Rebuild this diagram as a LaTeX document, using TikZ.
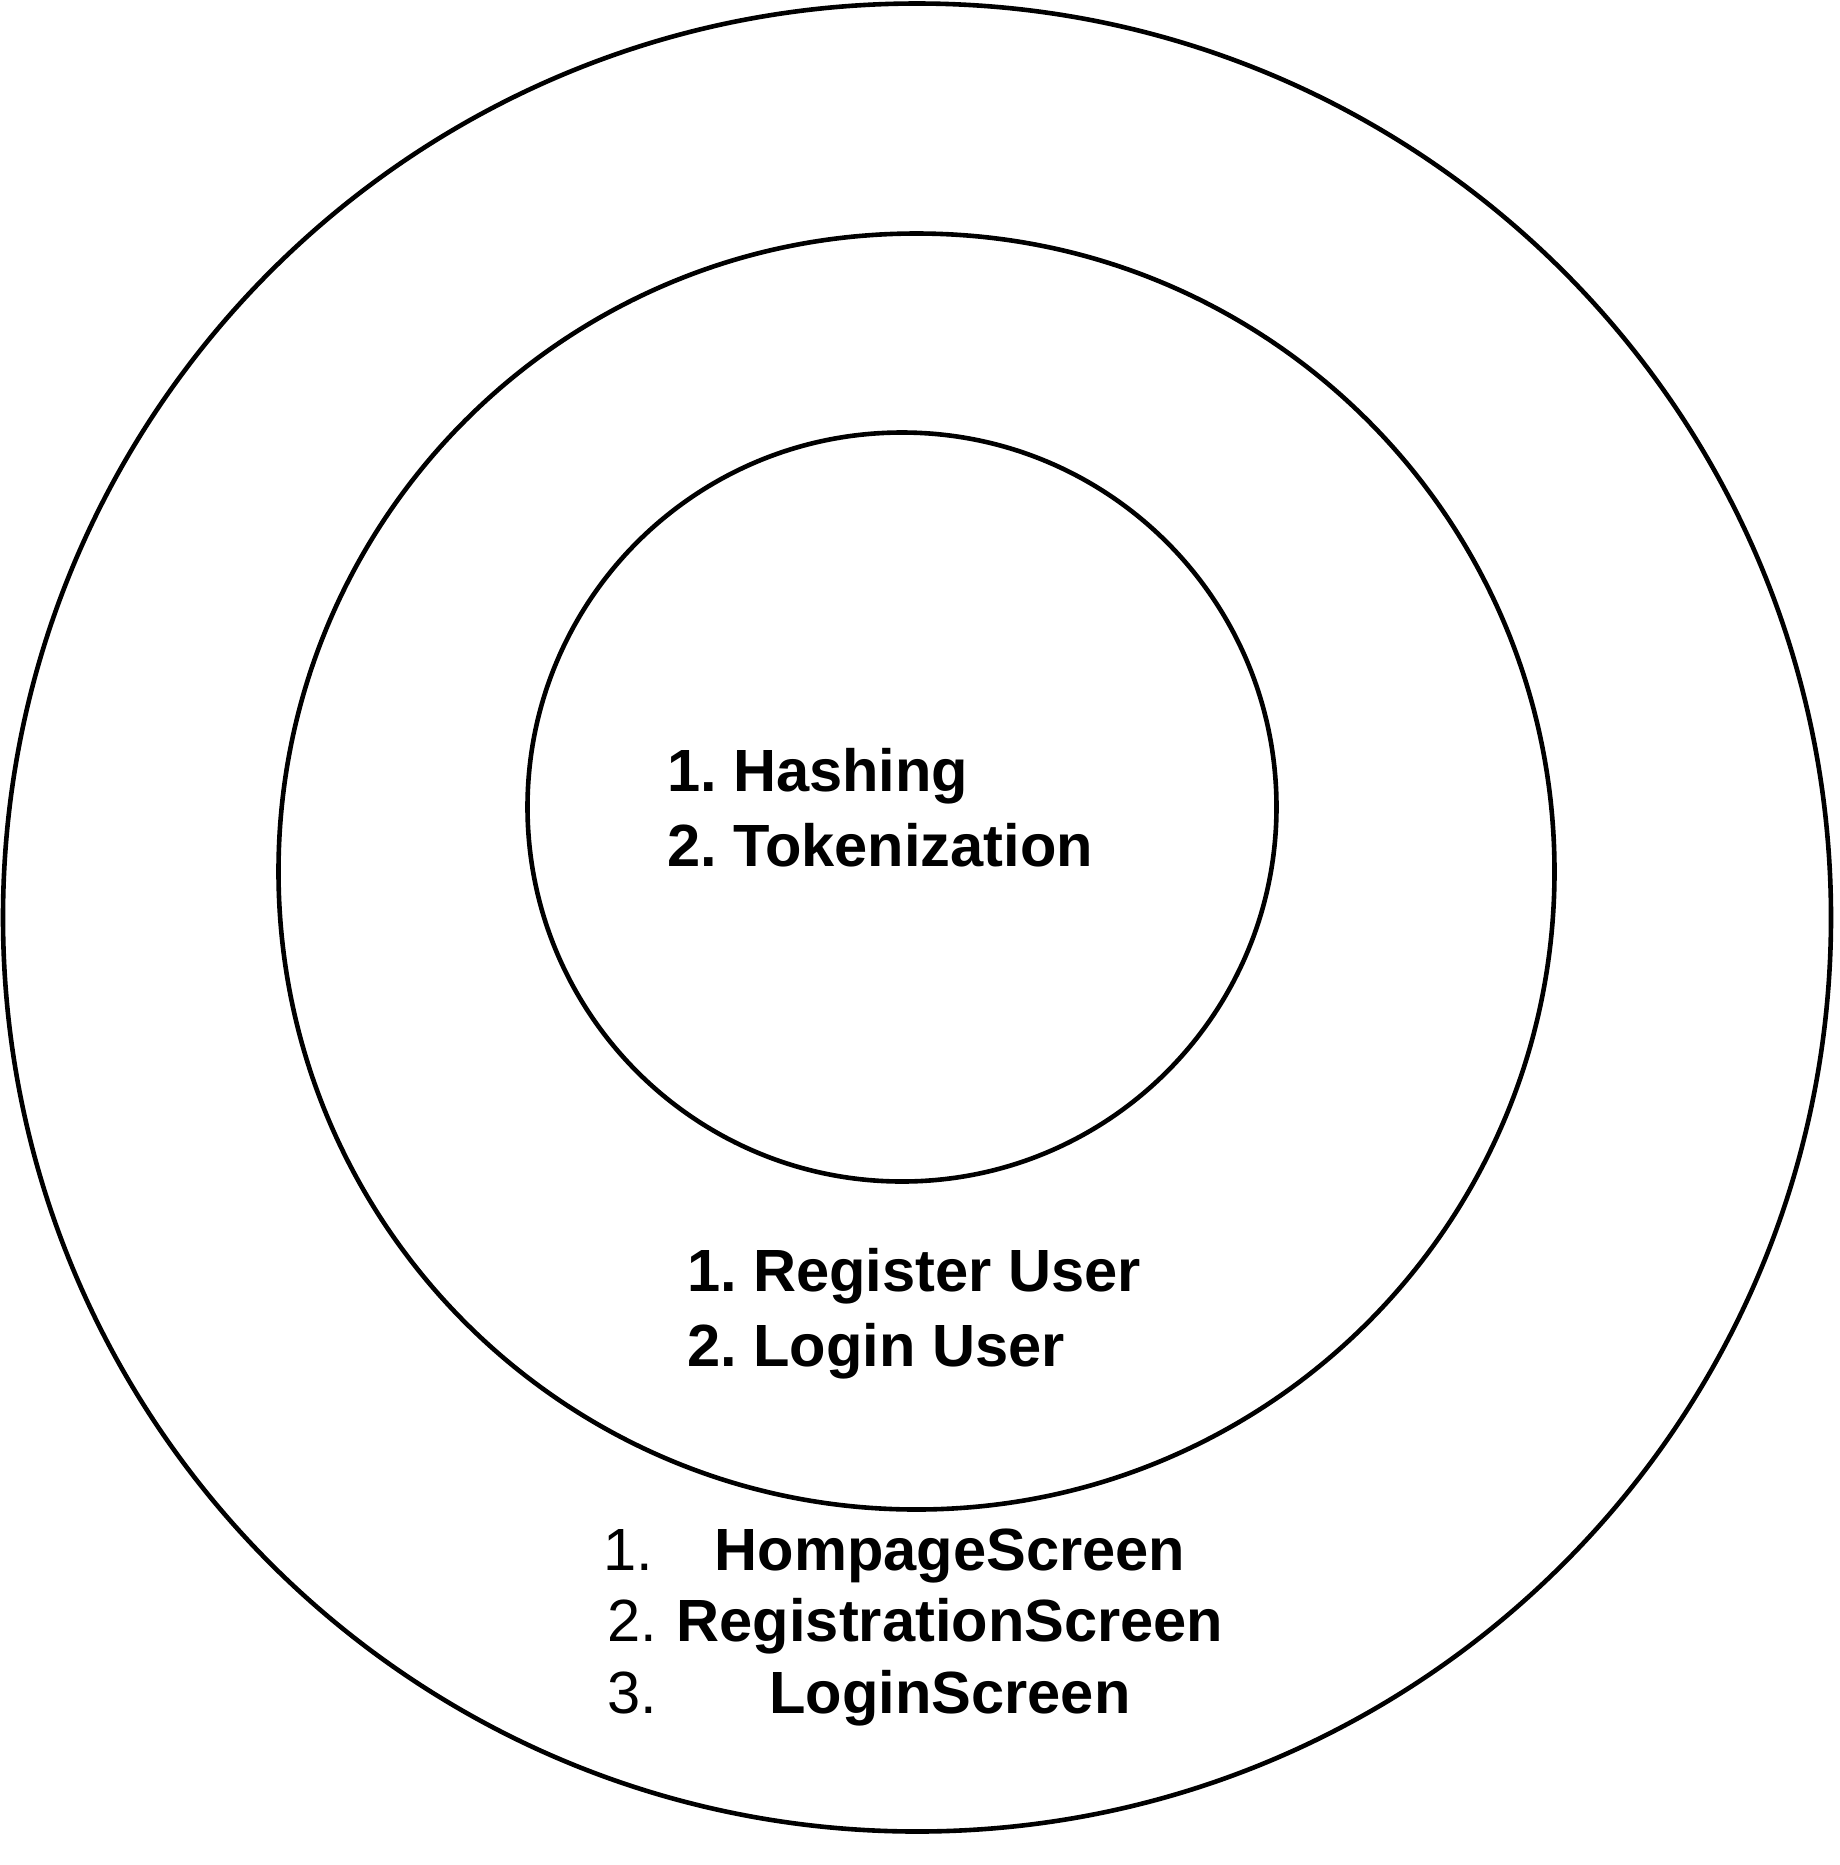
\documentclass[tikz,border=0pt]{standalone}
\usepackage{fontspec}
\setmainfont{Liberation Sans}
\frenchspacing
\begin{document}
\begin{tikzpicture}[x=0.5pt,y=-0.5pt]
	\tikzstyle{every node}=[inner sep=0pt,outer sep=0pt]
	\tikzstyle{ring}=[draw,line width=2.3pt]
	\tikzstyle{item}=[anchor=base west,font=\fontsize{29.8}{36}\selectfont\bfseries]
	\tikzstyle{numitem}=[anchor=base west,font=\fontsize{29.8}{36}\selectfont]
	\tikzstyle{screenitem}=[anchor=base,font=\fontsize{29.8}{36}\selectfont\bfseries]
	\useasboundingbox (0,0) rectangle (1840,1865);
	% rings
	\draw[ring] (917,917.5) circle [radius=457pt];
	\draw[ring] (916.5,871.5) circle [radius=319pt];
	\draw[ring] (902,807) circle [radius=187.25pt];
	% core
	\node[item] (hash) at (667,791) {1. Hashing};
	\node[item] (token) at (667,866) {2. Tokenization};
	% middle
	\node[item] (reguser) at (687,1291) {1. Register User};
	\node[item] (loginuser) at (687,1366) {2. Login User};
	% outer
	\node[numitem] (num1) at (603,1570) {1.};
	\node[screenitem] (homescr) at (950,1570) {HompageScreen};
	\node[numitem] (num2) at (607,1641) {2.};
	\node[screenitem] (regscr) at (950,1641) {RegistrationScreen};
	\node[numitem] (num3) at (607,1713) {3.};
	\node[screenitem] (loginscr) at (950,1713) {LoginScreen};
\end{tikzpicture}
\end{document}
